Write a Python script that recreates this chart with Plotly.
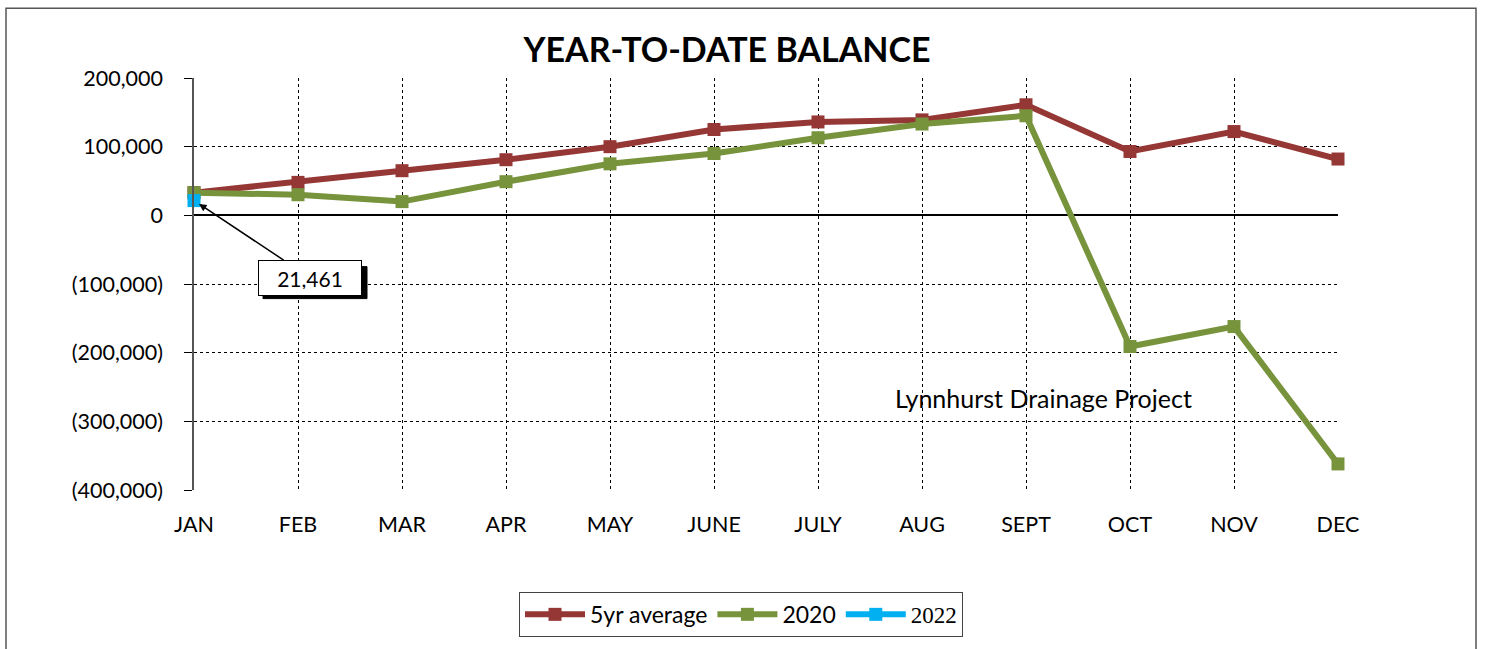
import plotly.graph_objects as go

months = ["JAN", "FEB", "MAR", "APR", "MAY", "JUNE", "JULY", "AUG", "SEPT", "OCT", "NOV", "DEC"]
avg5 = [33000, 48000, 65000, 81000, 100000, 125000, 136000, 139000, 161000, 93000, 122000, 82000]
y2020 = [33000, 30000, 20000, 49000, 75000, 90000, 113000, 133000, 145000, -191000, -162000, -362000]
y2022_months = ["JAN"]
y2022 = [21461]
ytick_vals = [200000, 100000, 0, -100000, -200000, -300000, -400000]
ytick_text = ["200,000", "100,000", "0", "(100,000)", "(200,000)", "(300,000)", "(400,000)"]

FONT = "Lato, 'Open Sans', sans-serif"

fig = go.Figure()
fig.add_trace(go.Scatter(x=months, y=avg5, name="5yr average", mode="lines+markers",
                         line=dict(color="#953735", width=6), cliponaxis=False,
                         marker=dict(symbol="square", size=13, color="#953735")))
fig.add_trace(go.Scatter(x=months, y=y2020, name="2020", mode="lines+markers",
                         line=dict(color="#77933C", width=6), cliponaxis=False,
                         marker=dict(symbol="square", size=13, color="#77933C")))
fig.add_trace(go.Scatter(x=y2022_months, y=y2022,
                         name="<span style='font-family:Liberation Serif, serif'>2022</span>",
                         mode="lines+markers", cliponaxis=False,
                         line=dict(color="#00B0F0", width=6),
                         marker=dict(symbol="square", size=13, color="#00B0F0")))

label = f"{y2022[0]:,}"
AX, AY = 116, 77
HALF_W, HALF_H, SH = 52, 16, 5
# shadow of the callout box (pixel-sized shape anchored at the 2022 point)
fig.add_shape(type="rect", xref="x", yref="y", xsizemode="pixel", ysizemode="pixel",
              xanchor=0, yanchor=y2022[0],
              x0=AX - HALF_W + SH, x1=AX + HALF_W + SH,
              y0=-(AY + HALF_H + SH), y1=-(AY - HALF_H + SH),
              fillcolor="black", line=dict(color="black", width=1), layer="above")
fig.add_annotation(x=y2022_months[0], y=y2022[0], text=label, showarrow=True,
                   ax=AX, ay=AY, arrowhead=2, arrowsize=1, arrowwidth=1.5, arrowcolor="black",
                   standoff=6, width=90, height=22, borderpad=6,
                   bgcolor="white", bordercolor="black", borderwidth=1,
                   font=dict(family=FONT, size=21, color="black"))

fig.add_annotation(x=(1043 - 194) / 1144, xref="paper", xanchor="center",
                   y=-266000, yref="y", yanchor="middle",
                   text="Lynnhurst Drainage Project", showarrow=False,
                   font=dict(family=FONT, size=25, color="black"))

# outer chart border
fig.add_shape(type="rect", xref="paper", yref="paper",
              x0=(6 - 194) / 1144, x1=(1476 - 194) / 1144,
              y0=-0.6, y1=(492 - 8) / 414,
              line=dict(color="#555555", width=1.5), fillcolor="rgba(0,0,0,0)", layer="below")

fig.update_layout(
    width=1490, height=649,
    margin=dict(l=194, r=152, t=78, b=157),
    paper_bgcolor="white", plot_bgcolor="white",
    font=dict(family=FONT, size=21, color="black"),
    title=dict(text="<b>YEAR-TO-DATE BALANCE</b>", x=727 / 1490, xanchor="center",
               y=1 - 50 / 649, yanchor="middle",
               font=dict(family=FONT, size=34, color="black")),
    showlegend=True,
    legend=dict(orientation="h", x=(741 - 194) / 1144, xanchor="center",
                y=(492 - 617) / 414, yanchor="middle",
                bordercolor="#444444", borderwidth=1, bgcolor="white",
                font=dict(family=FONT, size=23, color="black"),
                itemwidth=60, tracegroupgap=0),
)
fig.update_xaxes(type="category", categoryorder="array", categoryarray=months,
                 range=[0, 11], showgrid=True, gridcolor="black", griddash="dot", gridwidth=1,
                 showline=False, ticks="", ticklabelstandoff=19,
                 tickfont=dict(family=FONT, size=21.5))
fig.update_yaxes(range=[-400000, 200000], tickvals=ytick_vals, ticktext=ytick_text,
                 showgrid=True, gridcolor="black", griddash="dot", gridwidth=1,
                 zeroline=True, zerolinecolor="black", zerolinewidth=1.5,
                 showline=True, linecolor="#555555", linewidth=1.5,
                 ticks="outside", ticklen=8, tickcolor="black", ticklabelstandoff=17,
                 tickfont=dict(family=FONT, size=21.5))

fig.write_html("out.html", config={"displayModeBar": False},
               post_script="document.body.style.margin='0';")
